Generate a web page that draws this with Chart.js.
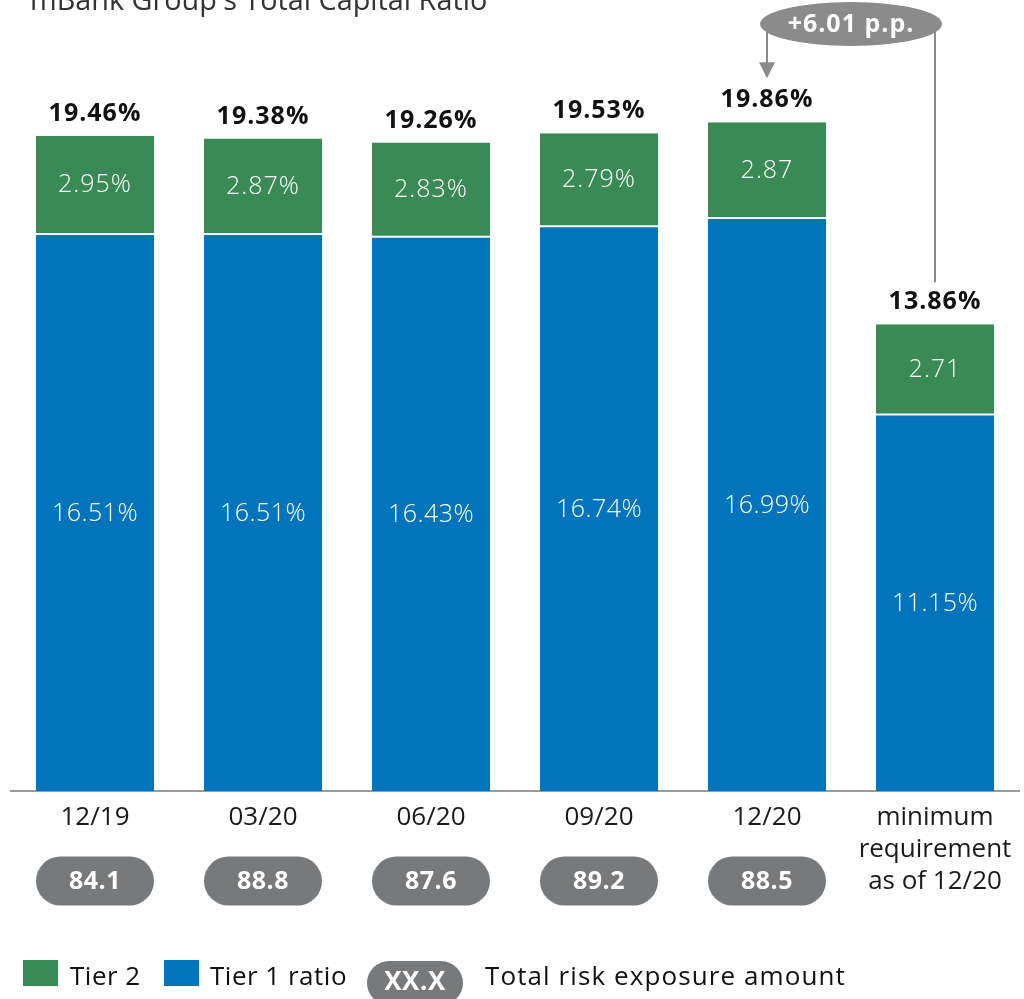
<!DOCTYPE html>
<html>
<head>
<meta charset="utf-8">
<script src="https://cdn.jsdelivr.net/npm/chart.js@4/dist/chart.umd.min.js"></script>
<style>
  html, body { margin: 0; padding: 0; background: #ffffff; }
  #wrap { width: 1024px; height: 999px; position: relative; overflow: hidden; }
</style>
</head>
<body>
<div id="wrap"><canvas id="c" width="1024" height="999"></canvas></div>
<script>
// Quarter-end capital ratios (percent)
const categories = ['12/19', '03/20', '06/20', '09/20', '12/20', ['minimum', 'requirement', 'as of 12/20']];
const tier1 = [16.51, 16.51, 16.43, 16.74, 16.99, 11.15];
const tier2 = [2.95, 2.87, 2.83, 2.79, 2.87, 2.71];
const tier1Labels = ['16.51%', '16.51%', '16.43%', '16.74%', '16.99%', '11.15%'];
const tier2Labels = ['2.95%', '2.87%', '2.83%', '2.79%', '2.87', '2.71'];
const totals = [19.46, 19.38, 19.26, 19.53, 19.86, 13.86];
const totalLabels = ['19.46%', '19.38%', '19.26%', '19.53%', '19.86%', '13.86%'];
// Total risk exposure amount per quarter
const riskExposure = ['84.1', '88.8', '87.6', '89.2', '88.5', null];
const surplusLabel = '+6.01 p.p.';
const titleText = "mBank Group's Total Capital Ratio";

const FONT = '"Open Sans", "DejaVu Sans", sans-serif';
const GREEN = '#3a8a55';
const BLUE = '#0174bc';
const PILL = '#77797a';
const NOTE_GREY = '#8b8b8b';

function pill(ctx, cx, cy, w, h, color) {
  const r = h / 2;
  ctx.beginPath();
  ctx.moveTo(cx - w / 2 + r, cy - r);
  ctx.lineTo(cx + w / 2 - r, cy - r);
  ctx.arc(cx + w / 2 - r, cy, r, -Math.PI / 2, Math.PI / 2);
  ctx.lineTo(cx - w / 2 + r, cy + r);
  ctx.arc(cx - w / 2 + r, cy, r, Math.PI / 2, Math.PI * 1.5);
  ctx.closePath();
  ctx.fillStyle = color;
  ctx.fill();
}

function spaced(ctx, px) {
  if ('letterSpacing' in ctx) ctx.letterSpacing = px + 'px';
}

const overlay = {
  id: 'overlay',
  afterDatasetsDraw(chart) {
    const ctx = chart.ctx;
    const x = chart.scales.x, y = chart.scales.y;
    const t1 = chart.getDatasetMeta(0).data;
    const t2 = chart.getDatasetMeta(1).data;
    ctx.save();
    ctx.textAlign = 'center';
    ctx.textBaseline = 'middle';

    // segment labels
    ctx.fillStyle = '#ffffff';
    ctx.font = '300 25px ' + FONT;
    spaced(ctx, 0.5);
    t1.forEach((b, i) => ctx.fillText(tier1Labels[i], b.x, (b.y + b.base) / 2 + 1));
    spaced(ctx, 1);
    t2.forEach((b, i) => ctx.fillText(tier2Labels[i], b.x, (b.y + b.base) / 2));

    // totals above each stack
    ctx.fillStyle = '#111111';
    ctx.font = 'bold 25px ' + FONT;
    spaced(ctx, 1);
    totals.forEach((v, i) => ctx.fillText(totalLabels[i], x.getPixelForValue(i), y.getPixelForValue(v) - 22));

    // risk exposure pills
    ctx.font = 'bold 25px ' + FONT;
    spaced(ctx, 0.5);
    riskExposure.forEach((v, i) => {
      if (v === null) return;
      const b = t1[i];
      pill(ctx, b.x, 881, b.width, 49, PILL);
      ctx.fillStyle = '#ffffff';
      ctx.fillText(v, b.x, 882);
    });

    // surplus over the minimum requirement
    const xA = x.getPixelForValue(4), xB = x.getPixelForValue(5);
    const cx = (xA + xB) / 2, cy = 24, rx = 91, ry = 22;
    const tipY = y.getPixelForValue(totals[4]) - 44;
    const endB = y.getPixelForValue(totals[5]) - 42;
    ctx.strokeStyle = NOTE_GREY;
    ctx.lineWidth = 2;
    ctx.beginPath();
    ctx.moveTo(xA, cy);
    ctx.lineTo(xA, tipY - 14);
    ctx.moveTo(xB, cy);
    ctx.lineTo(xB, endB);
    ctx.stroke();
    ctx.fillStyle = NOTE_GREY;
    ctx.beginPath();
    ctx.moveTo(xA - 8, tipY - 16);
    ctx.lineTo(xA + 8, tipY - 16);
    ctx.lineTo(xA, tipY);
    ctx.closePath();
    ctx.fill();
    ctx.beginPath();
    ctx.ellipse(cx, cy, rx, ry, 0, 0, Math.PI * 2);
    ctx.fill();
    ctx.fillStyle = '#ffffff';
    ctx.font = 'bold 25px ' + FONT;
    spaced(ctx, 1);
    ctx.fillText(surplusLabel, cx, cy + 1);

    // title (sits at the very top edge)
    spaced(ctx, 0);
    ctx.textAlign = 'left';
    ctx.textBaseline = 'alphabetic';
    ctx.fillStyle = '#333333';
    ctx.font = '26px ' + FONT;
    const tw = ctx.measureText(titleText).width;
    const ts = 26 * 457 / tw;
    ctx.font = ts.toFixed(1) + 'px ' + FONT;
    ctx.fillText(titleText, 30, 10);

    // legend
    const ly = 978;
    ctx.textBaseline = 'middle';
    ctx.font = '26px ' + FONT;
    spaced(ctx, 0.5);
    ctx.fillStyle = chart.data.datasets[1].backgroundColor;
    ctx.fillRect(23, 960, 35, 26);
    ctx.fillStyle = '#111111';
    ctx.fillText(chart.data.datasets[1].label, 70, ly);
    ctx.fillStyle = chart.data.datasets[0].backgroundColor;
    ctx.fillRect(164, 960, 35, 26);
    ctx.fillStyle = '#111111';
    ctx.fillText(chart.data.datasets[0].label, 210, ly);
    pill(ctx, 415, 983, 96, 44, PILL);
    ctx.textAlign = 'center';
    ctx.fillStyle = '#ffffff';
    ctx.font = 'bold 26px ' + FONT;
    ctx.fillText('XX.X', 415, 983);
    ctx.textAlign = 'left';
    ctx.fillStyle = '#111111';
    ctx.font = '26px ' + FONT;
    spaced(ctx, 1.1);
    ctx.fillText('Total risk exposure amount', 485, ly);

    ctx.restore();
  }
};

new Chart(document.getElementById('c'), {
  type: 'bar',
  data: {
    labels: categories,
    datasets: [
      {
        label: 'Tier 1 ratio',
        data: tier1,
        backgroundColor: BLUE,
        borderWidth: 0,
        barPercentage: 0.7024,
        categoryPercentage: 1
      },
      {
        label: 'Tier 2',
        data: tier2,
        backgroundColor: GREEN,
        borderColor: '#ffffff',
        borderWidth: { top: 0, left: 0, right: 0, bottom: 2 },
        borderSkipped: false,
        barPercentage: 0.7024,
        categoryPercentage: 1
      }
    ]
  },
  options: {
    responsive: false,
    animation: false,
    devicePixelRatio: 1,
    layout: { padding: { left: 11, right: 5, top: 0, bottom: 0 } },
    plugins: { legend: { display: false }, tooltip: { enabled: false }, title: { display: false } },
    scales: {
      x: {
        stacked: true,
        grid: { display: false, drawTicks: false },
        border: { display: true, color: '#9a9a9a', width: 2 },
        ticks: {
          color: '#1a1a1a',
          font: { family: FONT, size: 26, lineHeight: 32 / 26 },
          padding: 11,
          maxRotation: 0,
          autoSkip: false
        },
        afterFit(scale) { scale.height = 208; }
      },
      y: {
        stacked: true,
        display: false,
        min: 0,
        max: 23.49
      }
    }
  },
  plugins: [overlay]
});
</script>
</body>
</html>
